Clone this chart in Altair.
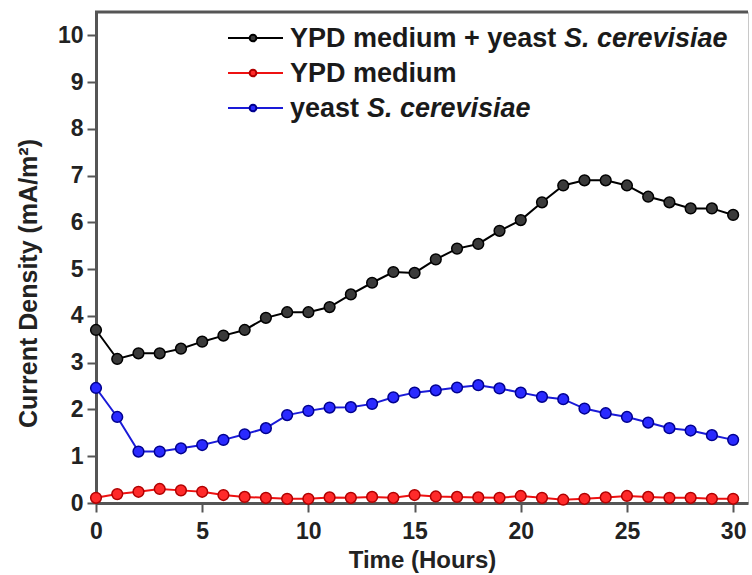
import altair as alt
import pandas as pd

hours = list(range(31))
ypd_yeast = [3.70, 3.08, 3.20, 3.20, 3.30, 3.45, 3.58, 3.70, 3.96, 4.08,
             4.08, 4.19, 4.46, 4.71, 4.94, 4.92, 5.21, 5.44, 5.54, 5.82,
             6.05, 6.43, 6.79, 6.90, 6.90, 6.79, 6.55, 6.43, 6.30, 6.30, 6.16]
ypd = [0.11, 0.19, 0.24, 0.30, 0.27, 0.24, 0.17, 0.13, 0.11, 0.09,
       0.09, 0.12, 0.11, 0.13, 0.11, 0.17, 0.14, 0.13, 0.12, 0.11,
       0.15, 0.11, 0.07, 0.09, 0.12, 0.15, 0.13, 0.11, 0.11, 0.09, 0.09]
yeast = [2.46, 1.84, 1.10, 1.10, 1.17, 1.24, 1.35, 1.47, 1.60, 1.88,
         1.97, 2.04, 2.05, 2.12, 2.26, 2.36, 2.41, 2.47, 2.52, 2.45,
         2.36, 2.27, 2.22, 2.02, 1.92, 1.84, 1.72, 1.60, 1.55, 1.45, 1.35]

series_names = ["YPD medium + yeast S. cerevisiae", "YPD medium", "yeast S. cerevisiae"]
series_values = [ypd_yeast, ypd, yeast]
line_colors = ["#000000", "#ee1111", "#1a1ad8"]
fill_colors = ["#3a3a3a", "#ff2a2a", "#2a2aff"]
stroke_colors = ["#000000", "#b00000", "#000090"]
legend_plain = ["YPD medium + yeast ", "YPD medium", "yeast "]
legend_italic = ["S. cerevisiae", "", "S. cerevisiae"]
x_ticks = [0, 5, 10, 15, 20, 25, 30]
y_ticks = list(range(11))

W, H = 652, 491
X0, Y0 = 96, 12
FONT = "Liberation Sans"

x_scale = alt.Scale(domain=[0, 30.7], nice=False, zero=False)
y_scale = alt.Scale(domain=[0, 10.5], nice=False)
x_axis = alt.Axis(values=x_ticks, title="Time (Hours)")
y_axis = alt.Axis(values=y_ticks, title="Current Density (mA/m²)",
                  titleX=-68, titleY=271, titleAngle=-90, titleFontSize=25,
                  titleAlign="center", titleBaseline="middle")
enc_x = alt.X("t:Q", scale=x_scale, axis=x_axis)
enc_y = alt.Y("v:Q", scale=y_scale, axis=y_axis)

layers = []
one = pd.DataFrame({"a": [0]})

for i, name in enumerate(series_names):
    df = pd.DataFrame({"t": hours, "v": series_values[i], "s": name})
    base = alt.Chart(df).encode(x=enc_x, y=enc_y)
    line = base.mark_line(color=line_colors[i], strokeWidth=2)
    pts = base.mark_point(filled=True, size=115, fill=fill_colors[i], stroke=stroke_colors[i],
                          strokeWidth=1.5, opacity=1)
    layers += [line, pts]

# top frame line
layers.append(alt.Chart(one).mark_rule(color="#555555", strokeWidth=3).encode(
    x=alt.value(-1), x2=alt.value(W), y=alt.value(0)))

# manual legend
row_sym_y = [38, 73, 108]
row_txt_y = [47, 82, 117]
italic_x = [564, None, 367]
for i in range(3):
    layers.append(alt.Chart(one).mark_rule(color=line_colors[i], strokeWidth=2).encode(
        x=alt.value(228 - X0), x2=alt.value(283 - X0), y=alt.value(row_sym_y[i] - Y0)))
    layers.append(alt.Chart(one).mark_point(filled=True, size=45, fill=fill_colors[i],
                                            stroke=stroke_colors[i], opacity=1).encode(
        x=alt.value(253 - X0), y=alt.value(row_sym_y[i] - Y0)))
    layers.append(alt.Chart(one).mark_text(font=FONT, fontWeight="bold", fontSize=27,
                                           align="left", baseline="alphabetic", color="#1a1a1a").encode(
        x=alt.value(290 - X0), y=alt.value(row_txt_y[i] - Y0), text=alt.value(legend_plain[i])))
    if legend_italic[i]:
        layers.append(alt.Chart(one).mark_text(font=FONT, fontWeight="bold", fontStyle="italic",
                                               fontSize=27, align="left", baseline="alphabetic",
                                               color="#1a1a1a").encode(
            x=alt.value(italic_x[i] - X0), y=alt.value(row_txt_y[i] - Y0),
            text=alt.value(legend_italic[i])))

chart = alt.layer(*layers).properties(
    width=W, height=H,
    autosize=alt.AutoSizeParams(type="none"),
    padding={"left": X0, "top": Y0, "right": 752 - X0 - W, "bottom": 575 - Y0 - H},
    background="white",
).configure_view(
    stroke="#c8c8c8", strokeWidth=1
).configure_axis(
    grid=False,
    domainColor="#555555", domainWidth=3,
    tickColor="#555555", tickWidth=2, tickSize=9,
    labelFont=FONT, labelFontWeight="bold", labelFontSize=23, labelColor="#222222",
    titleFont=FONT, titleFontWeight="bold", titleFontSize=24, titleColor="#222222",
).configure_axisX(
    labelPadding=8, titlePadding=5, labelFlush=False,
).configure_axisY(
    labelPadding=4,
)

chart.save("out.html", embed_options={"renderer": "svg", "actions": False})
